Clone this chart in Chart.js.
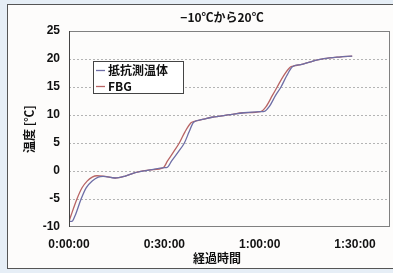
<!DOCTYPE html>
<html>
<head>
<meta charset="utf-8">
<script src="https://cdn.jsdelivr.net/npm/chart.js@4"></script>
<style>
  html, body { margin: 0; padding: 0; background: #e6eef6; }
  #wrap { width: 393px; height: 273px; }
</style>
</head>
<body>
<div id="wrap"><canvas id="mycanvas" width="393" height="273"></canvas></div>
<script>
// time in minutes, temperature in degC
var rtdTime = [0, 0.9, 1.9, 3.8, 5.4, 7.3, 9.2, 10.7, 14.5, 17.7, 20.8, 25.6, 30.0, 30.9, 32.3, 34.5, 36.3, 37.8, 39.2, 42, 45, 50.8, 55, 60.3, 61.5, 63, 65, 66.7, 68.5, 70.3, 72.9, 76, 80.2, 85, 89.1];
var rtdTemp = [-9.0, -9.0, -8.0, -5.0, -3.0, -1.8, -1.1, -0.95, -1.25, -0.9, -0.3, 0.2, 0.6, 0.65, 1.8, 3.5, 5.0, 7.0, 8.7, 9.2, 9.6, 10.05, 10.4, 10.6, 10.65, 11.5, 13.5, 15.0, 17.0, 18.6, 19.0, 19.5, 20.05, 20.35, 20.5];
var fbgTime = [0, 0.6, 2.5, 4.1, 5.7, 7.3, 8.8, 10.7, 14.5, 17.7, 20.8, 25.6, 29.7, 31, 33, 34.7, 36.5, 38.4, 39.2, 42, 45, 50.8, 55, 60.3, 62, 64, 65.5, 67.5, 69.5, 70.3, 72.9, 76, 80.2, 85, 89.1];
var fbgTemp = [-9.0, -8.0, -5.0, -3.0, -1.8, -1.1, -0.85, -0.9, -1.25, -0.9, -0.3, 0.2, 0.6, 1.8, 3.5, 5.0, 7.0, 8.6, 8.8, 9.2, 9.6, 10.05, 10.4, 10.6, 11.5, 13.5, 15.0, 17.0, 18.5, 18.7, 19.0, 19.5, 20.05, 20.35, 20.5];
var xTicks = [0, 30, 60, 90];
var yTicks = [-10, -5, 0, 5, 10, 15, 20, 25];
var seriesNames = ['抵抗測温体', 'FBG'];
var seriesColors = ['#6e6ea6', '#b86464'];

function pts(t, v) {
  var out = [];
  for (var i = 0; i < t.length; i++) out.push({x: t[i], y: v[i]});
  return out;
}
function hms(m) {
  var h = Math.floor(m / 60), mm = m % 60;
  return h + ':' + (mm < 10 ? '0' : '') + mm + ':00';
}

var boldFont = '"Liberation Sans", Arial, "Noto Sans CJK JP", sans-serif';
var jpFont = '"Noto Sans CJK JP", "Liberation Sans", sans-serif';

var decor = {
  id: 'decor',
  beforeDraw: function(chart) {
    var c = chart.ctx;
    c.save();
    c.fillStyle = '#e6eef6';
    c.fillRect(0, 0, chart.width, chart.height);
    c.fillStyle = '#fdfcfb';
    c.fillRect(7, 4, 390, 264);
    c.strokeStyle = '#555';
    c.lineWidth = 1;
    c.strokeRect(7.5, 4.5, 390, 264);
    c.restore();
  },
  afterDraw: function(chart) {
    var c = chart.ctx, a = chart.chartArea;
    c.save();
    c.strokeStyle = '#808080';
    c.lineWidth = 1;
    c.strokeRect(a.left + 0.5, a.top + 0.5, a.right - a.left - 1, a.bottom - a.top - 1);
    c.strokeStyle = '#444';
    c.beginPath(); c.moveTo(a.left + 0.5, a.top); c.lineTo(a.left + 0.5, a.bottom); c.stroke();

    c.fillStyle = '#111';
    c.textAlign = 'center';
    c.textBaseline = 'middle';
    c.font = 'bold 12px ' + jpFont;
    c.fillText('−10℃から20℃', 222, 17);
    c.fillText('経過時間', 217, 258);

    // legend box
    c.fillStyle = '#ffffff';
    c.fillRect(93, 61, 90, 32);
    c.strokeStyle = '#444';
    c.strokeRect(93.5, 61.5, 90, 32);
    c.textAlign = 'left';
    c.font = 'bold 12px ' + jpFont;
    for (var i = 0; i < seriesNames.length; i++) {
      var y = 70 + i * 16;
      c.strokeStyle = seriesColors[i];
      c.lineWidth = 1.3;
      c.beginPath(); c.moveTo(96, y + 0.5); c.lineTo(105, y + 0.5); c.stroke();
      c.fillStyle = '#111';
      c.fillText(seriesNames[i], 108, y);
    }
    c.restore();
  }
};

var ctx = document.getElementById('mycanvas');
new Chart(ctx, {
  type: 'line',
  data: {
    datasets: [
      { label: seriesNames[0], data: pts(rtdTime, rtdTemp), borderColor: seriesColors[0], borderWidth: 1.3, pointRadius: 0, cubicInterpolationMode: 'monotone', fill: false },
      { label: seriesNames[1], data: pts(fbgTime, fbgTemp), borderColor: seriesColors[1], borderWidth: 1.3, pointRadius: 0, cubicInterpolationMode: 'monotone', fill: false }
    ]
  },
  options: {
    responsive: false,
    animation: false,
    layout: { padding: { left: 0, top: 31, right: 3, bottom: 0 } },
    plugins: { legend: { display: false }, title: { display: false }, tooltip: { enabled: false } },
    scales: {
      x: {
        type: 'linear', min: 0, max: 101,
        afterBuildTicks: function(s) { s.ticks = xTicks.map(function(v) { return {value: v}; }); },
        afterFit: function(s) { s.height = 46; },
        grid: { display: false, drawTicks: false },
        border: { display: false },
        ticks: { padding: 10, maxRotation: 0, color: '#111', font: { family: boldFont, size: 12, weight: 'bold' }, callback: function(v) { return hms(v); } }
      },
      y: {
        min: -10, max: 25,
        afterBuildTicks: function(s) { s.ticks = yTicks.map(function(v) { return {value: v}; }); },
        afterFit: function(s) { s.width = 69; },
        grid: {
          drawTicks: false, lineWidth: 1,
          color: function(c) { return (c.tick && (c.tick.value === -10 || c.tick.value === 25)) ? 'rgba(0,0,0,0)' : '#b4b4b4'; }
        },
        border: { display: false, dash: [2, 2] },
        ticks: { padding: 9, color: '#111', font: { family: boldFont, size: 12, weight: 'bold' } },
        title: { display: true, text: '温度 [℃]', color: '#111', padding: { top: 22 }, font: { family: jpFont, size: 12, weight: 'bold' } }
      }
    }
  },
  plugins: [decor]
});
</script>
</body>
</html>
